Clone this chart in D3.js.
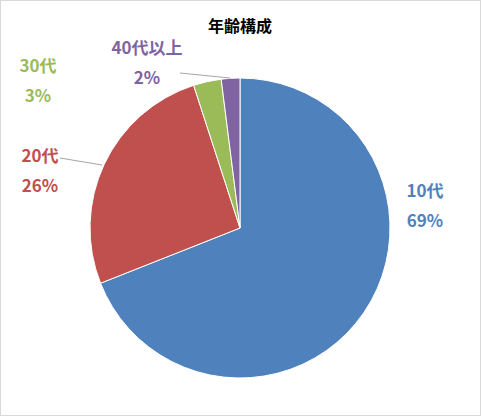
<!DOCTYPE html>
<html><head><meta charset="utf-8">
<script src="https://cdn.jsdelivr.net/npm/d3@7"></script>
<style>body{margin:0;background:#fff}svg{display:block}</style>
</head><body>
<svg id="chart" width="481" height="416"></svg>
<script>
/* Data */
const categories = ["10代", "20代", "30代", "40代以上"];
const shares = [69, 26, 3, 2];
const colors = ["#4F81BD", "#C0504D", "#9BBB59", "#8064A2"];
// label anchor positions (layout only)
const labelPos = [[425, 205], [40, 170], [38, 80], [147, 62]];

const svg = d3.select("#chart");
svg.append("rect").attr("x", 0.5).attr("y", 0.5).attr("width", 480).attr("height", 415)
  .attr("fill", "#fff").attr("stroke", "#d9d9d9");

svg.append("text").attr("x", 240).attr("y", 32).attr("text-anchor", "middle")
  .attr("font-family", "Noto Sans CJK JP").attr("font-size", 16).attr("font-weight", "bold")
  .text("年齢構成");

const cx = 240, cy = 228, r = 150;
const pie = d3.pie().sort(null).value((d) => d)(shares);
const arc = d3.arc().innerRadius(0).outerRadius(r);
const g = svg.append("g").attr("transform", `translate(${cx},${cy})`);
g.selectAll("path").data(pie).join("path")
  .attr("d", arc).attr("fill", (d, i) => colors[i])
  .attr("stroke", "#fff").attr("stroke-width", 1);

// leader lines for small/left slices
const leaders = [null, [[60, 158], [102, 165]], null, [[180, 73], [230, 78]]];
leaders.forEach((l) => {
  if (!l) return;
  svg.append("polyline").attr("points", l.map((p) => p.join(",")).join(" "))
    .attr("fill", "none").attr("stroke", "#a6a6a6");
});

categories.forEach((c, i) => {
  const [x, y] = labelPos[i];
  const t = svg.append("text").attr("text-anchor", "middle")
    .attr("font-family", "Noto Sans CJK JP").attr("font-size", 17).attr("font-weight", "bold")
    .attr("fill", colors[i]);
  t.append("tspan").attr("x", x).attr("y", y - 8).text(c);
  t.append("tspan").attr("x", x).attr("y", y + 22).text(shares[i] + "%");
});
</script>
</body></html>
